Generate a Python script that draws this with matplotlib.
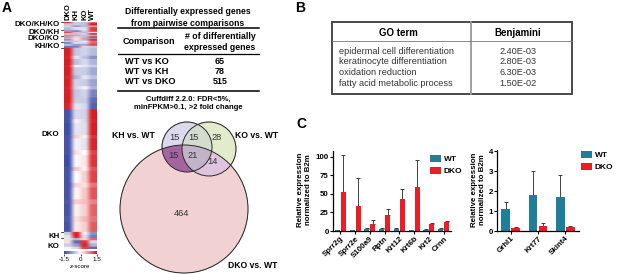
import numpy as np
import matplotlib
matplotlib.use('Agg')
import matplotlib.pyplot as plt
from matplotlib.colors import LinearSegmentedColormap, to_rgba
from matplotlib.patches import Circle, Rectangle

plt.rcParams['font.family'] = ['Liberation Sans', 'DejaVu Sans']

# ---------------- data ----------------
hm_columns = ['DKO', 'KH', 'KO', 'WT']
# heatmap blocks: (number of genes, [z DKO, z KH, z KO, z WT])
hm_dko_kh_ko = [(3, [1.3, -0.4, -0.5, 1.0]), (6, [-0.5, -0.4, -0.5, 1.45]),
                (3, [-0.3, -1.0, -0.6, 0.5]), (4, [0.5, 0.2, -0.3, 1.2]),
                (5, [-0.6, -0.3, -0.2, 1.3])]
hm_dko_kh = [(4, [-0.8, -1.1, -0.4, 1.2]), (3, [1.2, 0.4, -0.6, -0.2]),
             (4, [-0.4, -0.5, 0.3, 1.4]), (4, [0.8, 0.6, -0.5, -0.6])]
hm_dko_ko = [(4, [-0.7, -0.3, -0.5, 1.3]), (3, [0.6, -0.2, 0.7, -0.8]),
             (4, [-0.9, 0.2, -0.6, 1.45]), (3, [-0.3, -0.5, -0.1, 0.9])]
hm_kh_ko = [(5, [-1.0, -0.2, -0.3, 1.0]), (5, [-0.5, -0.8, -0.7, 1.2]),
            (5, [-1.1, -1.0, 0.3, -0.4])]
hm_dko = [(20, [1.45, -0.45, -0.35, -0.55]), (8, [1.4, -0.2, -0.5, -0.9]),
          (15, [1.45, -0.5, -0.3, -0.6]), (6, [1.4, -0.1, -0.2, -0.4]),
          (20, [1.45, -0.4, -0.4, -0.7]), (10, [1.4, -0.6, -0.2, -0.5]),
          (18, [1.45, -0.35, -0.4, -0.75]), (8, [1.4, -0.3, 0.1, -0.6]),
          (20, [1.45, -0.45, -0.35, -1.0]), (15, [1.45, -0.4, -0.4, -1.2]),
          (15, [1.4, -0.2, -0.3, -1.3]),
          (25, [-1.4, -0.3, -0.35, 1.45]), (10, [-1.4, 0.1, -0.3, 1.4]),
          (30, [-1.45, -0.2, -0.25, 1.45]), (8, [-1.4, 0.3, -0.1, 1.3]),
          (30, [-1.4, -0.1, -0.2, 1.4]), (12, [-1.4, 0.2, 0.0, 1.2]),
          (30, [-1.45, -0.05, 0.15, 1.3]), (10, [-1.4, 0.35, 0.1, 1.1]),
          (30, [-1.4, 0.0, 0.3, 1.2]), (12, [-1.4, 0.25, 0.2, 0.9]),
          (30, [-1.4, 0.05, 0.35, 1.1]), (12, [-1.35, 0.3, 0.4, 0.8]),
          (30, [-1.4, 0.1, 0.3, 1.0]), (15, [-1.35, 0.2, 0.45, 0.9]),
          (25, [-1.4, 0.15, 0.3, 1.05])]
hm_kh = [(8, [-0.4, 1.45, -0.1, -0.9]), (7, [-0.2, 1.4, -0.3, -1.1])]
hm_ko = [(6, [-0.2, -0.6, 0.3, 1.0]), (8, [0.2, -1.2, 1.3, -0.3]),
         (8, [-0.4, -0.8, 1.4, -0.6]), (6, [0.1, -0.3, 1.2, -1.2])]
hm_groups = ['DKO/KH/KO', 'DKO/KH', 'DKO/KO', 'KH/KO', 'DKO', 'KH', 'KO']
cbar_ticks = [-1.5, 0, 1.5]
cbar_ticklabels = ['-1.5', '0', '1.5']

table_title = 'Differentially expressed genes\nfrom pairwise comparisons'
table_comparisons = ['WT vs KO', 'WT vs KH', 'WT vs DKO']
table_counts = [65, 78, 515]
table_note = 'Cuffdiff 2.2.0: FDR<5%,\nminFPKM>0.1, >2 fold change'

venn_kh_only, venn_kh_ko, venn_ko_only = 15, 15, 28
venn_kh_dko, venn_all, venn_ko_dko, venn_dko_only = 15, 21, 14, 464

go_terms = ['epidermal cell differentiation', 'keratinocyte differentiation',
            'oxidation reduction', 'fatty acid metabolic process']
go_benjamini = ['2.40E-03', '2.80E-03', '6.30E-03', '1.50E-02']

c1_genes = ['Sprr2g', 'Sprr2e', 'S100a9', 'Rptn', 'Krt12', 'Krt6b', 'Krt2', 'Crnn']
c1_wt = [1.0, 1.0, 3.0, 2.5, 2.5, 1.0, 2.0, 3.0]
c1_wt_err = [0.5, 0.4, 1.0, 1.0, 1.0, 0.4, 0.6, 1.0]
c1_dko = [53, 34, 9.5, 21, 43, 59, 10, 12]
c1_dko_err = [50, 38, 5.5, 9, 14, 37, 1, 1.2]
c1_yticks = [0, 25, 50, 75, 100]

c2_genes = ['Grhl1', 'Krt77', 'Skint4']
c2_wt = [1.1, 1.8, 1.72]
c2_wt_err = [0.37, 1.22, 1.06]
c2_dko = [0.17, 0.26, 0.2]
c2_dko_err = [0.03, 0.14, 0.03]
c2_yticks = [0, 1, 2, 3, 4]

# ---------------- figure ----------------
W, H = 617, 274
fig = plt.figure(figsize=(W / 100, H / 100), dpi=100)


def px_axes(x0, y0, x1, y1, **kw):
    return fig.add_axes([x0 / W, 1 - y1 / H, (x1 - x0) / W, (y1 - y0) / H], **kw)


ov = px_axes(0, 0, W, H)
ov.set_xlim(0, W)
ov.set_ylim(H, 0)
ov.axis('off')

BOLD = dict(fontweight='bold')

# ---- panel letters
for lab, x, y in [('A', 2, 8), ('B', 295, 8), ('C', 296, 124)]:
    ov.text(x, y, lab, fontsize=10, fontweight='bold', ha='left', va='center')

# ---- heatmap
blocks = hm_dko_kh_ko + hm_dko_kh + hm_dko_ko + hm_kh_ko + hm_dko + hm_kh + hm_ko
mat = np.concatenate([np.tile(np.array(v, float), (n, 1)) for n, v in blocks])
cmap = LinearSegmentedColormap.from_list('bwr2', ['#3a48a4', '#ffffff', '#d8161b'])
HX0, HY0, HX1, HY1 = 64, 22, 97, 249
axh = px_axes(HX0, HY0, HX1, HY1)
im = axh.imshow(mat, aspect='auto', cmap=cmap, vmin=-1.5, vmax=1.5,
                interpolation='antialiased')
axh.axis('off')

ncol = len(hm_columns)
for i, c in enumerate(hm_columns):
    ov.text(HX0 + (i + 0.5) * (HX1 - HX0) / ncol, HY0 - 1.5, c, rotation=90,
            fontsize=5.5, ha='center', va='bottom', **BOLD)

sizes = [sum(n for n, _ in g) for g in [hm_dko_kh_ko, hm_dko_kh, hm_dko_ko, hm_kh_ko,
                                         hm_dko, hm_kh, hm_ko]]
total = sum(sizes)
bounds = np.concatenate([[0], np.cumsum(sizes)]) / total * (HY1 - HY0) + HY0
label_y = [24, 32, 39, 46, 135, 237, 246]
for g, yy in zip(hm_groups, label_y):
    ov.text(59.5, yy, g, fontsize=5.7, ha='right', va='center', **BOLD)
for b in list(bounds[:7]):
    ov.plot([60.5, 63.5], [b, b], color='k', lw=0.5)

cax = px_axes(HX0, 251, HX1, 254)
cb = fig.colorbar(im, cax=cax, orientation='horizontal', ticks=cbar_ticks)
cb.outline.set_visible(False)
cb.ax.set_xticklabels(cbar_ticklabels)
cb.ax.tick_params(labelsize=4.5, length=1.5, width=0.5, pad=1)
ov.text((HX0 + HX1) / 2, 266, 'z-score', fontsize=4.5, ha='center', va='center')

# ---- differential expression table (panel A)
TX0, TX1 = 118, 259
ov.text(188, 17.5, table_title, fontsize=6.2, ha='center', va='center',
        linespacing=1.3, **BOLD)
ov.plot([TX0, TX1], [28, 28], color='k', lw=1.1)
ov.text(148.5, 42, 'Comparison', fontsize=6.5, ha='center', va='center', **BOLD)
ov.text(220, 42, '# of differentially\nexpressed genes', fontsize=6.3, ha='center',
        va='center', linespacing=1.3, **BOLD)
ov.plot([TX0, TX1], [53.5, 53.5], color='k', lw=0.9)
for i, (c, n) in enumerate(zip(table_comparisons, table_counts)):
    yy = 62 + 10 * i
    ov.text(125, yy, c, fontsize=6.7, ha='left', va='center', **BOLD)
    ov.text(220, yy, str(n), fontsize=6.5, ha='center', va='center', **BOLD)
ov.plot([TX0, TX1], [91, 91], color='k', lw=1.1)
ov.text(188, 103.5, table_note, fontsize=5.5, ha='center', va='center',
        linespacing=1.35, **BOLD)

# ---- Venn diagram
kh_c, kh_r = (187, 147), 25
ko_c, ko_r = (209, 149), 27
dk_c, dk_r = (184, 209), 64
step = 0.25
xs = np.arange(112, 252, step) + step / 2
ys = np.arange(118, 276, step) + step / 2
X, Y = np.meshgrid(xs, ys)
in_kh = (X - kh_c[0]) ** 2 + (Y - kh_c[1]) ** 2 <= kh_r ** 2
in_ko = (X - ko_c[0]) ** 2 + (Y - ko_c[1]) ** 2 <= ko_r ** 2
in_dk = (X - dk_c[0]) ** 2 + (Y - dk_c[1]) ** 2 <= dk_r ** 2
rgba = np.zeros(X.shape + (4,))
region_cols = [
    (in_dk & ~in_kh & ~in_ko, '#f1d2d2'),
    (in_kh & ~in_ko & ~in_dk, '#dedaec'),
    (in_ko & ~in_kh & ~in_dk, '#e4ecca'),
    (in_kh & in_ko & ~in_dk, '#d3dccf'),
    (in_kh & in_dk & ~in_ko, '#a3649f'),
    (in_ko & in_dk & ~in_kh, '#dfc4df'),
    (in_kh & in_ko & in_dk, '#c3b3c8'),
]
for m, col in region_cols:
    rgba[m] = to_rgba(col)
ov.imshow(rgba, extent=(xs[0] - step / 2, xs[-1] + step / 2,
                        ys[-1] + step / 2, ys[0] - step / 2),
          interpolation='bilinear', aspect='auto', zorder=1)
for c, r in [(dk_c, dk_r), (kh_c, kh_r), (ko_c, ko_r)]:
    ov.add_patch(Circle(c, r, fill=False, ec='#2a2a2a', lw=0.7, zorder=2))
ov.set_xlim(0, W)
ov.set_ylim(H, 0)
vnum = dict(fontsize=6.7, color='#333333', ha='center', va='center', zorder=3)
ov.text(174, 137, str(venn_kh_only), **vnum)
ov.text(193, 137, str(venn_kh_ko), **vnum)
ov.text(217, 137, str(venn_ko_only), **vnum)
ov.text(173, 155, str(venn_kh_dko), **vnum)
ov.text(193, 155, str(venn_all), **vnum)
ov.text(212, 162, str(venn_ko_dko), **vnum)
ov.text(181, 213, str(venn_dko_only), **vnum)
ov.text(133, 135, 'KH vs. WT', fontsize=6.2, ha='center', va='center', **BOLD)
ov.text(257, 135, 'KO vs. WT', fontsize=6.2, ha='center', va='center', **BOLD)
ov.text(253, 266, 'DKO vs. WT', fontsize=6.2, ha='center', va='center', **BOLD)

# ---- panel B table
BX0, BX1, BY0, BY1 = 332, 572, 22, 94
ov.add_patch(Rectangle((BX0, BY0), BX1 - BX0, BY1 - BY0, fill=False,
                       ec='#3a3a3a', lw=1.3))
ov.plot([471, 471], [BY0, BY1], color='#9a9a9a', lw=1.3)
ov.plot([BX0, BX1], [41, 41], color='#777777', lw=0.6)
ov.text(398, 32.5, 'GO term', fontsize=7, ha='center', va='center', **BOLD)
ov.text(518, 32.5, 'Benjamini', fontsize=7, ha='center', va='center', **BOLD)
for i, (t, v) in enumerate(zip(go_terms, go_benjamini)):
    yy = 51 + 10.8 * i
    ov.text(339, yy, t, fontsize=6.6, ha='left', va='center', color='#333333')
    ov.text(518, yy, v, fontsize=6.6, ha='center', va='center', color='#333333')

# ---- panel C bar charts
TEAL = '#1f7f98'
RED = '#ee1c25'


def style_axes(ax, yticks):
    for s in ['top', 'right']:
        ax.spines[s].set_visible(False)
    for s in ['left', 'bottom']:
        ax.spines[s].set_linewidth(0.9)
    ax.set_yticks(yticks)
    ax.tick_params(axis='both', labelsize=5.7, length=2, width=0.8, pad=1)
    for lbl in ax.get_yticklabels() + ax.get_xticklabels():
        lbl.set_fontweight('bold')
    ax.set_facecolor('none')


ebkw = dict(fmt='none', ecolor='#222222', elinewidth=0.6, capsize=1.6, capthick=0.6)
legkw = dict(loc='upper left', bbox_transform=fig.transFigure, frameon=False,
             prop=dict(size=6, weight='bold'), handlelength=1.3, handleheight=0.9,
             handletextpad=0.35, labelspacing=0.4, borderpad=0, borderaxespad=0)

ax1 = px_axes(333, 151, 451, 231)
x1 = np.arange(len(c1_genes))
ax1.bar(x1 - 0.2, c1_wt, 0.34, color=TEAL, label='WT', zorder=2)
ax1.bar(x1 + 0.2, c1_dko, 0.34, color=RED, label='DKO', zorder=2)
ax1.errorbar(x1 - 0.2, c1_wt, yerr=[np.zeros(len(c1_wt)), c1_wt_err], zorder=1, **ebkw)
ax1.errorbar(x1 + 0.2, c1_dko, yerr=[np.zeros(len(c1_dko)), c1_dko_err], zorder=1, **ebkw)
ax1.set_xlim(-0.5, len(c1_genes) - 0.5)
ax1.set_ylim(0, 108)
ax1.set_xticks(x1)
ax1.set_xticklabels(c1_genes, rotation=45, ha='right', rotation_mode='anchor')
style_axes(ax1, c1_yticks)
ax1.legend(bbox_to_anchor=(430 / W, 1 - 155 / H), **legkw)

ax2 = px_axes(497, 150, 579, 231)
x2 = np.arange(len(c2_genes))
ax2.bar(x2 - 0.18, c2_wt, 0.32, color=TEAL, label='WT', zorder=2)
ax2.bar(x2 + 0.18, c2_dko, 0.32, color=RED, label='DKO', zorder=2)
ax2.errorbar(x2 - 0.18, c2_wt, yerr=[np.zeros(len(c2_wt)), c2_wt_err], zorder=1, **ebkw)
ax2.errorbar(x2 + 0.18, c2_dko, yerr=[np.zeros(len(c2_dko)), c2_dko_err], zorder=1, **ebkw)
ax2.set_xlim(-0.5, len(c2_genes) - 0.5)
ax2.set_ylim(0, 4.05)
ax2.set_xticks(x2)
ax2.set_xticklabels(c2_genes, rotation=45, ha='right', rotation_mode='anchor')
style_axes(ax2, c2_yticks)
ax2.legend(bbox_to_anchor=(581 / W, 1 - 151 / H), **legkw)

ylab = 'Relative expression\nnormalized to B2m'
ov.text(305, 190, ylab, rotation=90, fontsize=5.7, ha='center', va='center',
        linespacing=1.2, **BOLD)
ov.text(479, 190, ylab, rotation=90, fontsize=5.7, ha='center', va='center',
        linespacing=1.2, **BOLD)

fig.savefig('out.png', dpi=100)
